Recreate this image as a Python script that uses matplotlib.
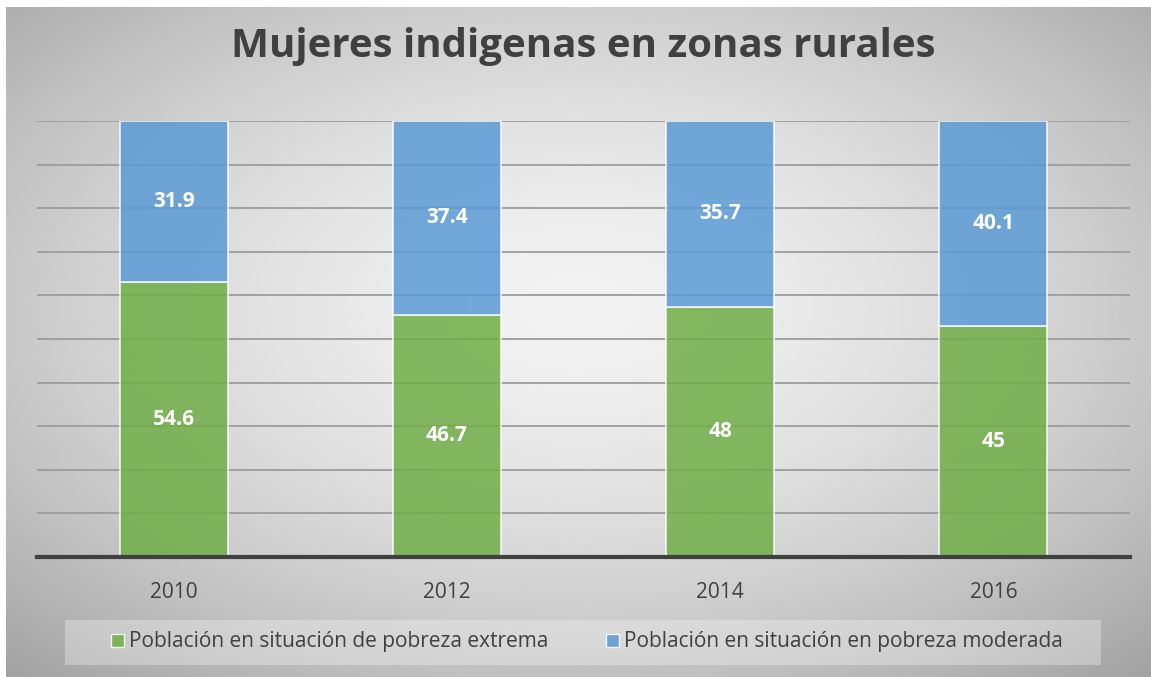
import numpy as np
import matplotlib.pyplot as plt
from matplotlib.patches import Patch, Rectangle

# data (stacked to 100%)
years = ['2010', '2012', '2014', '2016']
extrema = [54.6, 46.7, 48, 45]
moderada = [31.9, 37.4, 35.7, 40.1]
series_names = ['Población en situación de pobreza extrema',
                'Población en situación en pobreza moderada']

green = '#70ad47'
blue = '#5b9bd5'
font = 'Open Sans'
edge = (1, 1, 1, 0.4)

W, H = 1151, 677
fig = plt.figure(figsize=(W / 100, H / 100), dpi=100)
fig.patch.set_facecolor('white')

# radial gray background of the chart area
bg = fig.add_axes([6 / W, 0, 1 - 6 / W, 1 - 7 / H], zorder=-5)
yy, xx = np.mgrid[0:1:300j, 0:1:500j]
r = np.sqrt(((xx - 0.5) / 0.75) ** 2 + ((yy - 0.45) / 0.75) ** 2)
shade = np.clip(0.95 - 0.32 * r ** 1.6, 0, 1)
bg.imshow(shade, cmap='gray', vmin=0, vmax=1, aspect='auto', interpolation='bilinear')
bg.axis('off')

# legend box
fig.patches.append(Rectangle((65 / W, (H - 665) / H), (1101 - 65) / W, 45 / H,
                             transform=fig.transFigure, facecolor='white', alpha=0.3,
                             edgecolor='none', zorder=-1))

ax = fig.add_axes([37 / W, (H - 557) / H, (1130 - 37) / W, (557 - 121) / H])
ax.set_facecolor('none')

tot = np.array(extrema) + np.array(moderada)
pe = np.array(extrema) / tot * 100
pm = np.array(moderada) / tot * 100
x = np.arange(len(years))
bw = 0.395
ax.bar(x, pe, bw, color=green, alpha=0.85, edgecolor=edge, linewidth=1.2, zorder=3)
ax.bar(x, pm, bw, bottom=pe, color=blue, alpha=0.85, edgecolor=edge, linewidth=1.2, zorder=3)

for i in range(len(years)):
    ax.text(x[i], pe[i] / 2, f'{extrema[i]:g}', ha='center', va='center', color='white',
            fontsize=15, fontweight='bold', family=font, zorder=4)
    ax.text(x[i], pe[i] + pm[i] / 2, f'{moderada[i]:g}', ha='center', va='center', color='white',
            fontsize=15, fontweight='bold', family=font, zorder=4)

ax.set_xlim(-0.5, 3.5)
ax.set_ylim(0, 100)
ax.set_yticks(np.arange(10, 101, 10))
ax.yaxis.grid(True, color='#9c9c9c', linewidth=1.3, zorder=0)
ax.tick_params(axis='y', length=0, labelleft=False)
ax.tick_params(axis='x', length=0, pad=18)
ax.set_xticks(x)
ax.set_xticklabels(years, fontsize=15, color='#404040', family=font)
for s in ['top', 'right', 'left']:
    ax.spines[s].set_visible(False)
ax.spines['bottom'].set_color('#404040')
ax.spines['bottom'].set_linewidth(3)
ax.spines['bottom'].set_zorder(5)

fig.text(583 / W, (H - 47) / H, 'Mujeres indigenas en zonas rurales', ha='center', va='center',
         fontsize=29, fontweight='bold', color='#404040', family=font)

handles = [Patch(facecolor=green, alpha=0.85, edgecolor=edge),
           Patch(facecolor=blue, alpha=0.85, edgecolor=edge)]
fig.legend(handles, series_names, loc='center', bbox_to_anchor=(587 / W, (H - 642) / H),
           ncol=2, frameon=False, handlelength=0.6, handleheight=0.6, handletextpad=0.25,
           columnspacing=2.8, prop={'family': font, 'size': 15}, labelcolor='#404040')

fig.savefig('out.png', dpi=100)
